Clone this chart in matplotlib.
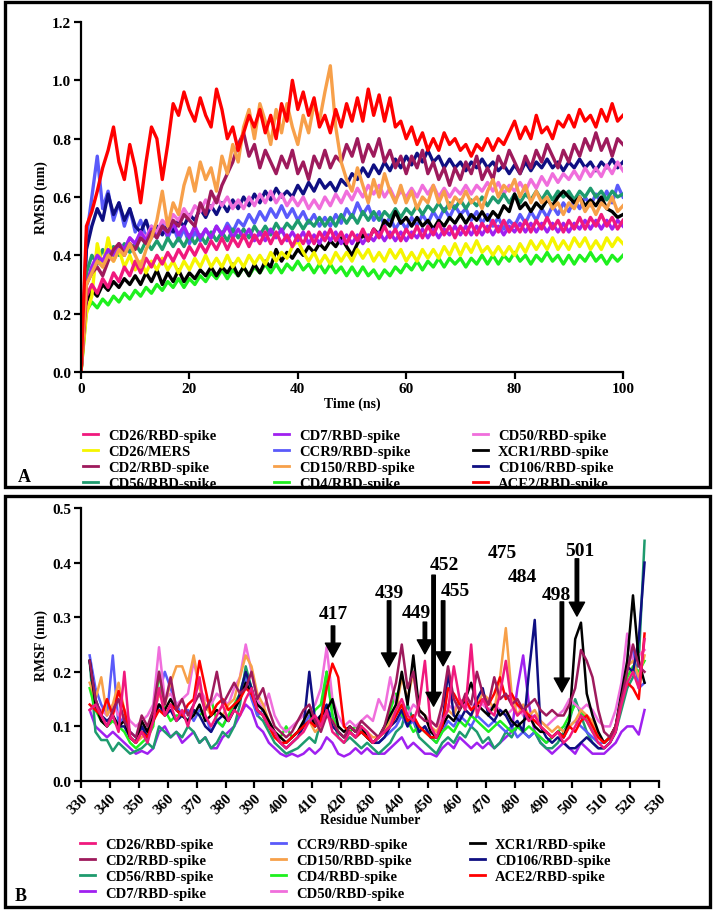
import matplotlib
matplotlib.use('Agg')
import matplotlib.pyplot as plt
import numpy as np
from matplotlib.patches import Rectangle

plt.rcParams['font.family'] = ['Liberation Serif', 'DejaVu Serif']
plt.rcParams['font.weight'] = 'bold'
plt.rcParams['axes.labelweight'] = 'bold'

# ---------------- Panel A : RMSD vs time ----------------
time_ns = np.arange(0, 101)

rmsd_ace2 = [0.00, 0.50, 0.55, 0.62, 0.70, 0.76, 0.84, 0.72, 0.66, 0.78, 0.70,
             0.58, 0.72, 0.84, 0.80, 0.66, 0.78, 0.92, 0.88, 0.96, 0.90,
             0.86, 0.94, 0.88, 0.84, 0.97, 0.90, 0.80, 0.84, 0.76, 0.82,
             0.88, 0.84, 0.90, 0.82, 0.88, 0.80, 0.92, 0.86, 1.00, 0.90,
             0.96, 0.88, 0.94, 0.84, 0.88, 0.82, 0.90, 0.84, 0.92, 0.86,
             0.94, 0.86, 0.97, 0.88, 0.95, 0.86, 0.94, 0.84, 0.86, 0.80,
             0.84, 0.78, 0.82, 0.76, 0.80, 0.76, 0.82, 0.78, 0.80, 0.76,
             0.78, 0.74, 0.78, 0.76, 0.80, 0.76, 0.80, 0.78, 0.82, 0.86,
             0.80, 0.84, 0.80, 0.88, 0.82, 0.84, 0.80, 0.86, 0.84, 0.88,
             0.84, 0.90, 0.86, 0.88, 0.84, 0.90, 0.86, 0.92, 0.86, 0.88]
rmsd_cd150 = [0.00, 0.30, 0.34, 0.38, 0.36, 0.40, 0.38, 0.42, 0.40, 0.44, 0.40,
              0.36, 0.42, 0.46, 0.52, 0.62, 0.50, 0.58, 0.54, 0.64, 0.70,
              0.62, 0.72, 0.66, 0.70, 0.62, 0.74, 0.68, 0.78, 0.72, 0.84,
              0.90, 0.80, 0.92, 0.86, 0.78, 0.90, 0.82, 0.92, 0.84, 0.78,
              0.88, 0.82, 0.92, 0.86, 0.96, 1.05, 0.84, 0.72, 0.66, 0.62,
              0.70, 0.64, 0.58, 0.66, 0.60, 0.68, 0.62, 0.58, 0.64, 0.58,
              0.62, 0.56, 0.60, 0.58, 0.64, 0.58, 0.62, 0.56, 0.60, 0.58,
              0.62, 0.58, 0.60, 0.56, 0.62, 0.66, 0.60, 0.64, 0.62, 0.66,
              0.60, 0.64, 0.58, 0.62, 0.58, 0.60, 0.56, 0.58, 0.54, 0.58,
              0.56, 0.60, 0.55, 0.58, 0.54, 0.58, 0.56, 0.60, 0.55, 0.57]
rmsd_cd2 = [0.00, 0.30, 0.34, 0.36, 0.33, 0.38, 0.42, 0.44, 0.40, 0.44, 0.42,
            0.46, 0.44, 0.48, 0.46, 0.50, 0.48, 0.52, 0.50, 0.54, 0.52,
            0.50, 0.58, 0.54, 0.62, 0.58, 0.64, 0.68, 0.72, 0.78, 0.82,
            0.74, 0.78, 0.70, 0.76, 0.72, 0.68, 0.74, 0.70, 0.76, 0.68,
            0.72, 0.66, 0.74, 0.70, 0.76, 0.70, 0.74, 0.72, 0.78, 0.74,
            0.80, 0.72, 0.78, 0.74, 0.80, 0.72, 0.76, 0.70, 0.74, 0.68,
            0.74, 0.70, 0.76, 0.68, 0.72, 0.66, 0.70, 0.64, 0.70, 0.66,
            0.72, 0.68, 0.74, 0.66, 0.70, 0.66, 0.74, 0.70, 0.76, 0.72,
            0.68, 0.74, 0.70, 0.76, 0.72, 0.78, 0.74, 0.70, 0.76, 0.72,
            0.78, 0.74, 0.80, 0.76, 0.82, 0.76, 0.80, 0.74, 0.80, 0.78]
rmsd_cd106 = [0.00, 0.42, 0.50, 0.56, 0.52, 0.61, 0.54, 0.58, 0.52, 0.56, 0.50,
              0.48, 0.52, 0.46, 0.50, 0.47, 0.51, 0.48, 0.52, 0.50, 0.54,
              0.52, 0.56, 0.53, 0.57, 0.54, 0.58, 0.55, 0.59, 0.56, 0.60,
              0.57, 0.61, 0.58, 0.62, 0.59, 0.63, 0.60, 0.62, 0.60, 0.64,
              0.61, 0.65, 0.62, 0.66, 0.63, 0.65, 0.62, 0.66, 0.64, 0.68,
              0.66, 0.70, 0.67, 0.71, 0.68, 0.72, 0.69, 0.73, 0.70, 0.74,
              0.71, 0.75, 0.72, 0.76, 0.72, 0.74, 0.70, 0.73, 0.70, 0.72,
              0.69, 0.72, 0.70, 0.73, 0.70, 0.72, 0.69, 0.71, 0.68, 0.71,
              0.68, 0.72, 0.69, 0.72, 0.70, 0.73, 0.70, 0.72, 0.69, 0.72,
              0.70, 0.73, 0.70, 0.72, 0.69, 0.72, 0.70, 0.73, 0.70, 0.72]
rmsd_ccr9 = [0.00, 0.46, 0.60, 0.74, 0.56, 0.62, 0.52, 0.58, 0.50, 0.56, 0.48,
             0.52, 0.46, 0.50, 0.47, 0.51, 0.46, 0.50, 0.45, 0.49, 0.44,
             0.48, 0.45, 0.49, 0.46, 0.50, 0.47, 0.51, 0.48, 0.52, 0.50,
             0.54, 0.51, 0.55, 0.52, 0.56, 0.53, 0.57, 0.53, 0.56, 0.52,
             0.55, 0.51, 0.54, 0.50, 0.53, 0.50, 0.54, 0.51, 0.56, 0.53,
             0.58, 0.54, 0.57, 0.52, 0.55, 0.50, 0.53, 0.49, 0.52, 0.49,
             0.53, 0.50, 0.54, 0.51, 0.55, 0.52, 0.56, 0.53, 0.57, 0.54,
             0.56, 0.52, 0.55, 0.51, 0.54, 0.50, 0.53, 0.49, 0.52, 0.50,
             0.54, 0.51, 0.55, 0.52, 0.56, 0.53, 0.57, 0.54, 0.58, 0.55,
             0.59, 0.56, 0.60, 0.57, 0.61, 0.58, 0.62, 0.58, 0.64, 0.60]
rmsd_cd50 = [0.00, 0.30, 0.36, 0.40, 0.38, 0.42, 0.40, 0.44, 0.42, 0.46, 0.44,
             0.48, 0.46, 0.50, 0.48, 0.52, 0.50, 0.54, 0.52, 0.56, 0.53,
             0.57, 0.55, 0.59, 0.56, 0.60, 0.57, 0.60, 0.56, 0.59, 0.56,
             0.60, 0.57, 0.61, 0.58, 0.62, 0.58, 0.61, 0.57, 0.60, 0.57,
             0.60, 0.56, 0.59, 0.56, 0.60, 0.57, 0.61, 0.58, 0.62, 0.59,
             0.63, 0.60, 0.64, 0.61, 0.64, 0.60, 0.63, 0.59, 0.62, 0.60,
             0.63, 0.60, 0.64, 0.61, 0.64, 0.60, 0.63, 0.60, 0.63, 0.61,
             0.64, 0.61, 0.64, 0.62, 0.65, 0.62, 0.65, 0.61, 0.64, 0.62,
             0.65, 0.62, 0.66, 0.63, 0.67, 0.64, 0.68, 0.65, 0.68, 0.66,
             0.69, 0.66, 0.70, 0.67, 0.70, 0.67, 0.71, 0.68, 0.72, 0.69]
rmsd_cd56 = [0.00, 0.34, 0.40, 0.37, 0.42, 0.39, 0.43, 0.40, 0.44, 0.41, 0.44,
             0.41, 0.45, 0.42, 0.45, 0.42, 0.46, 0.43, 0.46, 0.43, 0.47,
             0.44, 0.47, 0.44, 0.48, 0.45, 0.48, 0.45, 0.49, 0.46, 0.49,
             0.46, 0.50, 0.47, 0.50, 0.47, 0.51, 0.48, 0.51, 0.49, 0.52,
             0.49, 0.52, 0.50, 0.53, 0.50, 0.53, 0.50, 0.54, 0.51, 0.54,
             0.51, 0.55, 0.52, 0.55, 0.52, 0.55, 0.53, 0.56, 0.53, 0.56,
             0.54, 0.57, 0.54, 0.57, 0.55, 0.58, 0.55, 0.58, 0.56, 0.59,
             0.56, 0.59, 0.57, 0.60, 0.57, 0.60, 0.58, 0.61, 0.58, 0.61,
             0.58, 0.61, 0.59, 0.62, 0.59, 0.62, 0.59, 0.62, 0.60, 0.62,
             0.59, 0.62, 0.60, 0.63, 0.60, 0.62, 0.59, 0.62, 0.60, 0.61]
rmsd_cd7 = [0.00, 0.30, 0.36, 0.40, 0.38, 0.42, 0.40, 0.44, 0.42, 0.46, 0.44,
            0.48, 0.45, 0.49, 0.46, 0.50, 0.47, 0.51, 0.47, 0.50, 0.46,
            0.50, 0.46, 0.49, 0.46, 0.50, 0.47, 0.50, 0.46, 0.49, 0.46,
            0.49, 0.45, 0.48, 0.45, 0.49, 0.46, 0.49, 0.45, 0.48, 0.45,
            0.48, 0.44, 0.47, 0.44, 0.48, 0.45, 0.48, 0.44, 0.47, 0.44,
            0.47, 0.44, 0.47, 0.45, 0.48, 0.45, 0.48, 0.45, 0.48, 0.45,
            0.48, 0.46, 0.49, 0.46, 0.49, 0.46, 0.49, 0.47, 0.50, 0.47,
            0.50, 0.47, 0.50, 0.47, 0.50, 0.47, 0.50, 0.47, 0.50, 0.48,
            0.51, 0.48, 0.51, 0.48, 0.51, 0.48, 0.51, 0.48, 0.51, 0.48,
            0.51, 0.49, 0.52, 0.49, 0.52, 0.49, 0.52, 0.49, 0.52, 0.50]
rmsd_cd26 = [0.00, 0.26, 0.30, 0.27, 0.32, 0.29, 0.34, 0.31, 0.36, 0.33, 0.38,
             0.34, 0.39, 0.36, 0.40, 0.37, 0.41, 0.38, 0.42, 0.39, 0.43,
             0.40, 0.44, 0.41, 0.45, 0.42, 0.46, 0.42, 0.46, 0.43, 0.47,
             0.43, 0.47, 0.44, 0.48, 0.44, 0.48, 0.44, 0.47, 0.43, 0.47,
             0.44, 0.48, 0.44, 0.48, 0.45, 0.49, 0.45, 0.48, 0.44, 0.48,
             0.45, 0.49, 0.45, 0.49, 0.46, 0.50, 0.46, 0.49, 0.45, 0.49,
             0.46, 0.50, 0.46, 0.50, 0.47, 0.51, 0.47, 0.50, 0.46, 0.50,
             0.47, 0.51, 0.47, 0.51, 0.48, 0.52, 0.48, 0.52, 0.48, 0.51,
             0.48, 0.52, 0.48, 0.52, 0.49, 0.53, 0.49, 0.52, 0.48, 0.52,
             0.49, 0.53, 0.49, 0.53, 0.50, 0.54, 0.50, 0.53, 0.49, 0.52]
rmsd_mers = [0.00, 0.20, 0.26, 0.44, 0.36, 0.46, 0.38, 0.42, 0.36, 0.40, 0.35,
             0.38, 0.34, 0.38, 0.35, 0.39, 0.35, 0.38, 0.34, 0.38, 0.35,
             0.39, 0.36, 0.40, 0.36, 0.39, 0.36, 0.40, 0.36, 0.39, 0.36,
             0.40, 0.37, 0.40, 0.37, 0.41, 0.38, 0.41, 0.39, 0.43, 0.45,
             0.41, 0.38, 0.41, 0.37, 0.40, 0.37, 0.41, 0.38, 0.41, 0.38,
             0.42, 0.39, 0.42, 0.38, 0.41, 0.38, 0.42, 0.39, 0.42, 0.38,
             0.41, 0.38, 0.42, 0.39, 0.42, 0.39, 0.43, 0.40, 0.44, 0.40,
             0.44, 0.41, 0.45, 0.41, 0.43, 0.40, 0.43, 0.40, 0.43, 0.40,
             0.44, 0.41, 0.45, 0.42, 0.45, 0.42, 0.46, 0.42, 0.45, 0.42,
             0.46, 0.43, 0.46, 0.42, 0.45, 0.42, 0.46, 0.43, 0.46, 0.44]
rmsd_cd4 = [0.00, 0.21, 0.24, 0.22, 0.25, 0.23, 0.26, 0.24, 0.27, 0.25, 0.28,
            0.26, 0.29, 0.27, 0.30, 0.28, 0.31, 0.29, 0.32, 0.29, 0.32,
            0.30, 0.33, 0.31, 0.34, 0.32, 0.35, 0.32, 0.35, 0.33, 0.36,
            0.33, 0.36, 0.34, 0.37, 0.34, 0.37, 0.34, 0.37, 0.35, 0.38,
            0.35, 0.37, 0.34, 0.37, 0.34, 0.37, 0.34, 0.36, 0.33, 0.36,
            0.33, 0.36, 0.33, 0.35, 0.32, 0.35, 0.33, 0.36, 0.34, 0.37,
            0.35, 0.38, 0.35, 0.38, 0.36, 0.39, 0.36, 0.39, 0.37, 0.39,
            0.36, 0.39, 0.37, 0.40, 0.37, 0.40, 0.37, 0.40, 0.38, 0.41,
            0.38, 0.40, 0.37, 0.40, 0.38, 0.41, 0.38, 0.40, 0.37, 0.40,
            0.37, 0.40, 0.38, 0.41, 0.38, 0.40, 0.37, 0.40, 0.38, 0.40]
rmsd_xcr1 = [0.00, 0.24, 0.28, 0.26, 0.30, 0.28, 0.31, 0.29, 0.32, 0.30, 0.33,
             0.30, 0.34, 0.31, 0.35, 0.30, 0.34, 0.31, 0.35, 0.31, 0.34,
             0.32, 0.35, 0.33, 0.36, 0.33, 0.36, 0.34, 0.37, 0.33, 0.36,
             0.33, 0.37, 0.34, 0.38, 0.36, 0.42, 0.38, 0.41, 0.39, 0.42,
             0.40, 0.43, 0.41, 0.44, 0.42, 0.45, 0.43, 0.46, 0.43, 0.40,
             0.44, 0.47, 0.45, 0.49, 0.47, 0.52, 0.50, 0.55, 0.51, 0.53,
             0.50, 0.53, 0.50, 0.52, 0.49, 0.52, 0.50, 0.53, 0.51, 0.54,
             0.51, 0.54, 0.52, 0.55, 0.52, 0.55, 0.53, 0.57, 0.55, 0.61,
             0.56, 0.58, 0.55, 0.58, 0.56, 0.59, 0.57, 0.60, 0.62, 0.60,
             0.58, 0.60, 0.57, 0.59, 0.57, 0.60, 0.56, 0.55, 0.53, 0.54]

# ---------------- Panel B : RMSF per residue ----------------
residues = np.arange(333, 527, 2)

rmsf_cd26 = [0.13, 0.14, 0.12, 0.10, 0.12, 0.09, 0.20, 0.08, 0.07, 0.09,
             0.07, 0.11, 0.17, 0.12, 0.14, 0.11, 0.13, 0.10, 0.14, 0.19,
             0.12, 0.10, 0.12, 0.14, 0.11, 0.13, 0.12, 0.15, 0.17, 0.13,
             0.12, 0.10, 0.09, 0.07, 0.06, 0.07, 0.08, 0.09, 0.11, 0.12,
             0.10, 0.13, 0.09, 0.08, 0.07, 0.09, 0.08, 0.10, 0.09, 0.07,
             0.08, 0.09, 0.10, 0.13, 0.15, 0.12, 0.11, 0.14, 0.22, 0.10,
             0.08, 0.11, 0.13, 0.21, 0.15, 0.13, 0.25, 0.12, 0.15, 0.13,
             0.12, 0.16, 0.22, 0.14, 0.12, 0.13, 0.11, 0.12, 0.10, 0.09,
             0.08, 0.09, 0.07, 0.08, 0.10, 0.12, 0.11, 0.09, 0.07, 0.06,
             0.07, 0.09, 0.14, 0.18, 0.20, 0.17, 0.26]
rmsf_cd2 = [0.22, 0.15, 0.12, 0.10, 0.13, 0.15, 0.11, 0.09, 0.08, 0.12,
            0.10, 0.13, 0.20, 0.14, 0.19, 0.13, 0.15, 0.12, 0.14, 0.16,
            0.13, 0.15, 0.20, 0.14, 0.16, 0.18, 0.16, 0.17, 0.20, 0.15,
            0.17, 0.13, 0.10, 0.09, 0.08, 0.09, 0.11, 0.13, 0.14, 0.11,
            0.09, 0.12, 0.11, 0.09, 0.08, 0.10, 0.09, 0.11, 0.10, 0.09,
            0.08, 0.10, 0.14, 0.18, 0.25, 0.17, 0.20, 0.12, 0.11, 0.11,
            0.10, 0.14, 0.21, 0.15, 0.13, 0.16, 0.14, 0.20, 0.16, 0.14,
            0.19, 0.15, 0.16, 0.14, 0.15, 0.13, 0.14, 0.15, 0.13, 0.12,
            0.13, 0.12, 0.12, 0.14, 0.17, 0.24, 0.22, 0.19, 0.13, 0.09,
            0.08, 0.10, 0.15, 0.20, 0.25, 0.21, 0.20]
rmsf_cd56 = [0.22, 0.09, 0.075, 0.075, 0.055, 0.07, 0.06, 0.05, 0.055, 0.06,
             0.07, 0.06, 0.10, 0.09, 0.08, 0.09, 0.08, 0.10, 0.09, 0.07,
             0.08, 0.06, 0.07, 0.09, 0.08, 0.10, 0.14, 0.21, 0.17, 0.12,
             0.11, 0.09, 0.07, 0.06, 0.05, 0.055, 0.06, 0.07, 0.08, 0.07,
             0.11, 0.20, 0.12, 0.08, 0.07, 0.08, 0.07, 0.06, 0.07, 0.06,
             0.05, 0.06, 0.07, 0.09, 0.10, 0.14, 0.11, 0.08, 0.07, 0.06,
             0.05, 0.07, 0.08, 0.07, 0.09, 0.08, 0.10, 0.09, 0.07, 0.08,
             0.06, 0.07, 0.09, 0.08, 0.10, 0.09, 0.08, 0.09, 0.07, 0.06,
             0.06, 0.07, 0.09, 0.11, 0.15, 0.12, 0.09, 0.07, 0.06, 0.06,
             0.07, 0.09, 0.13, 0.17, 0.19, 0.22, 0.44]
rmsf_cd7 = [0.13, 0.10, 0.09, 0.08, 0.09, 0.08, 0.07, 0.06, 0.05, 0.055,
            0.05, 0.06, 0.09, 0.10, 0.08, 0.09, 0.07, 0.08, 0.09, 0.07,
            0.08, 0.06, 0.06, 0.08, 0.09, 0.10, 0.12, 0.14, 0.13, 0.10,
            0.09, 0.07, 0.06, 0.05, 0.045, 0.05, 0.045, 0.05, 0.06, 0.05,
            0.06, 0.08, 0.07, 0.05, 0.045, 0.05, 0.06, 0.05, 0.06, 0.05,
            0.05, 0.05, 0.06, 0.07, 0.08, 0.06, 0.07, 0.06, 0.05, 0.05,
            0.045, 0.06, 0.07, 0.06, 0.08, 0.07, 0.06, 0.07, 0.06, 0.07,
            0.06, 0.07, 0.08, 0.09, 0.17, 0.23, 0.14, 0.09, 0.07, 0.06,
            0.05, 0.06, 0.07, 0.06, 0.05, 0.07, 0.06, 0.05, 0.05, 0.05,
            0.06, 0.07, 0.09, 0.10, 0.10, 0.085, 0.13]
rmsf_ccr9 = [0.23, 0.17, 0.14, 0.12, 0.23, 0.10, 0.12, 0.09, 0.08, 0.10,
             0.09, 0.12, 0.16, 0.20, 0.17, 0.14, 0.12, 0.13, 0.11, 0.13,
             0.12, 0.09, 0.11, 0.10, 0.12, 0.13, 0.15, 0.19, 0.15, 0.12,
             0.13, 0.11, 0.09, 0.08, 0.07, 0.08, 0.09, 0.10, 0.12, 0.10,
             0.11, 0.13, 0.12, 0.09, 0.08, 0.09, 0.08, 0.10, 0.08, 0.07,
             0.07, 0.08, 0.09, 0.10, 0.12, 0.10, 0.11, 0.09, 0.10, 0.08,
             0.07, 0.09, 0.11, 0.10, 0.12, 0.11, 0.10, 0.12, 0.11, 0.10,
             0.11, 0.10, 0.09, 0.10, 0.08, 0.09, 0.08, 0.09, 0.08, 0.07,
             0.08, 0.09, 0.08, 0.10, 0.11, 0.10, 0.09, 0.08, 0.07, 0.07,
             0.08, 0.10, 0.16, 0.21, 0.24, 0.17, 0.18]
rmsf_cd150 = [0.18, 0.15, 0.19, 0.12, 0.14, 0.18, 0.13, 0.08, 0.07, 0.08,
              0.09, 0.12, 0.16, 0.14, 0.18, 0.21, 0.21, 0.18, 0.23, 0.17,
              0.14, 0.12, 0.13, 0.12, 0.14, 0.15, 0.19, 0.23, 0.21, 0.16,
              0.14, 0.11, 0.09, 0.08, 0.07, 0.08, 0.09, 0.10, 0.11, 0.09,
              0.10, 0.12, 0.11, 0.09, 0.08, 0.10, 0.09, 0.10, 0.09, 0.08,
              0.08, 0.09, 0.11, 0.13, 0.19, 0.15, 0.20, 0.13, 0.12, 0.10,
              0.09, 0.11, 0.13, 0.12, 0.15, 0.13, 0.12, 0.14, 0.16, 0.15,
              0.13, 0.19, 0.28, 0.16, 0.12, 0.14, 0.12, 0.13, 0.11, 0.10,
              0.09, 0.10, 0.09, 0.10, 0.11, 0.13, 0.12, 0.11, 0.08, 0.07,
              0.08, 0.10, 0.15, 0.21, 0.22, 0.19, 0.23]
rmsf_cd4 = [0.17, 0.13, 0.11, 0.10, 0.11, 0.10, 0.09, 0.07, 0.06, 0.07,
            0.08, 0.10, 0.20, 0.13, 0.11, 0.12, 0.12, 0.11, 0.13, 0.12,
            0.13, 0.15, 0.11, 0.10, 0.12, 0.14, 0.16, 0.20, 0.17, 0.13,
            0.12, 0.10, 0.09, 0.08, 0.10, 0.08, 0.09, 0.10, 0.11, 0.13,
            0.14, 0.20, 0.12, 0.09, 0.08, 0.09, 0.10, 0.09, 0.08, 0.07,
            0.08, 0.09, 0.13, 0.16, 0.12, 0.11, 0.09, 0.10, 0.09, 0.08,
            0.07, 0.09, 0.10, 0.09, 0.11, 0.10, 0.12, 0.11, 0.10, 0.09,
            0.10, 0.11, 0.10, 0.09, 0.10, 0.09, 0.10, 0.09, 0.08, 0.07,
            0.08, 0.09, 0.10, 0.12, 0.14, 0.13, 0.11, 0.09, 0.08, 0.07,
            0.08, 0.10, 0.14, 0.19, 0.21, 0.20, 0.22]
rmsf_cd50 = [0.13, 0.14, 0.13, 0.12, 0.14, 0.12, 0.13, 0.11, 0.10, 0.11,
             0.12, 0.14, 0.245, 0.15, 0.16, 0.14, 0.15, 0.16, 0.22, 0.17,
             0.15, 0.14, 0.16, 0.15, 0.14, 0.17, 0.19, 0.25, 0.20, 0.15,
             0.13, 0.16, 0.12, 0.10, 0.09, 0.10, 0.11, 0.12, 0.13, 0.14,
             0.17, 0.245, 0.15, 0.12, 0.10, 0.11, 0.10, 0.11, 0.12, 0.11,
             0.15, 0.13, 0.19, 0.14, 0.13, 0.12, 0.14, 0.13, 0.12, 0.11,
             0.10, 0.12, 0.14, 0.13, 0.15, 0.14, 0.13, 0.15, 0.14, 0.13,
             0.14, 0.13, 0.12, 0.13, 0.14, 0.12, 0.11, 0.12, 0.11, 0.10,
             0.11, 0.12, 0.13, 0.15, 0.14, 0.13, 0.14, 0.13, 0.11, 0.10,
             0.10, 0.13, 0.18, 0.27, 0.22, 0.23, 0.24]
rmsf_xcr1 = [0.22, 0.14, 0.11, 0.10, 0.12, 0.10, 0.11, 0.08, 0.07, 0.11,
             0.09, 0.12, 0.14, 0.13, 0.15, 0.13, 0.12, 0.11, 0.12, 0.14,
             0.11, 0.12, 0.13, 0.12, 0.11, 0.13, 0.15, 0.18, 0.16, 0.14,
             0.13, 0.11, 0.09, 0.08, 0.07, 0.08, 0.09, 0.11, 0.13, 0.10,
             0.12, 0.13, 0.15, 0.10, 0.09, 0.10, 0.09, 0.10, 0.08, 0.07,
             0.08, 0.10, 0.12, 0.14, 0.20, 0.14, 0.23, 0.13, 0.12, 0.09,
             0.08, 0.10, 0.12, 0.11, 0.13, 0.15, 0.18, 0.14, 0.13, 0.12,
             0.14, 0.12, 0.13, 0.11, 0.10, 0.11, 0.12, 0.10, 0.09, 0.09,
             0.08, 0.09, 0.08, 0.11, 0.26, 0.29, 0.16, 0.12, 0.09, 0.07,
             0.08, 0.10, 0.16, 0.22, 0.34, 0.22, 0.18]
rmsf_cd106 = [0.22, 0.15, 0.12, 0.11, 0.12, 0.10, 0.10, 0.08, 0.07, 0.10,
              0.08, 0.11, 0.14, 0.12, 0.13, 0.11, 0.12, 0.11, 0.13, 0.12,
              0.10, 0.09, 0.11, 0.12, 0.11, 0.13, 0.16, 0.20, 0.17, 0.13,
              0.12, 0.10, 0.09, 0.07, 0.06, 0.07, 0.08, 0.10, 0.20, 0.11,
              0.12, 0.14, 0.10, 0.09, 0.08, 0.09, 0.08, 0.09, 0.08, 0.07,
              0.07, 0.08, 0.10, 0.11, 0.13, 0.10, 0.12, 0.09, 0.10, 0.08,
              0.08, 0.10, 0.20, 0.12, 0.11, 0.13, 0.12, 0.15, 0.17, 0.12,
              0.11, 0.13, 0.12, 0.10, 0.11, 0.09, 0.20, 0.295, 0.10, 0.08,
              0.07, 0.08, 0.07, 0.06, 0.06, 0.07, 0.08, 0.07, 0.06, 0.06,
              0.07, 0.09, 0.15, 0.21, 0.20, 0.26, 0.40]
rmsf_ace2 = [0.14, 0.13, 0.12, 0.15, 0.12, 0.165, 0.13, 0.08, 0.07, 0.09,
             0.08, 0.11, 0.13, 0.12, 0.14, 0.13, 0.12, 0.14, 0.15, 0.22,
             0.17, 0.12, 0.14, 0.15, 0.13, 0.14, 0.15, 0.17, 0.16, 0.13,
             0.12, 0.10, 0.08, 0.07, 0.07, 0.08, 0.09, 0.10, 0.11, 0.10,
             0.11, 0.17, 0.215, 0.19, 0.10, 0.09, 0.08, 0.09, 0.08, 0.07,
             0.08, 0.09, 0.10, 0.12, 0.14, 0.11, 0.12, 0.10, 0.09, 0.08,
             0.08, 0.10, 0.17, 0.16, 0.14, 0.15, 0.13, 0.14, 0.15, 0.14,
             0.16, 0.19, 0.15, 0.16, 0.14, 0.13, 0.12, 0.11, 0.10, 0.09,
             0.08, 0.09, 0.08, 0.10, 0.09, 0.11, 0.12, 0.10, 0.08, 0.07,
             0.08, 0.10, 0.15, 0.18, 0.17, 0.15, 0.27]

# residue annotations: label, text x, text y, arrow x, arrow start, arrow end
ann_labels = ['417', '439', '449', '452', '455', '475', '484', '498', '501']
ann_text_x = [417.2, 436.6, 445.9, 455.6, 459.4, 475.7, 482.6, 494.4, 502.7]
ann_text_y = [0.306, 0.346, 0.308, 0.396, 0.348, 0.418, 0.374, 0.342, 0.423]
ann_arrow_x = [417.2, 436.6, 449.0, 452.0, 455.3, None, None, 496.4, 501.6]
ann_arrow_top = [0.284, 0.330, 0.291, 0.377, 0.330, None, None, 0.328, 0.407]
ann_arrow_bot = [0.227, 0.209, 0.233, 0.137, 0.211, None, None, 0.163, 0.302]

colors = {
    'CD26/RBD-spike': '#F0197D',
    'CD26/MERS': '#F5F500',
    'CD2/RBD-spike': '#9E1A5C',
    'CD56/RBD-spike': '#1E9B6E',
    'CD7/RBD-spike': '#A020F0',
    'CCR9/RBD-spike': '#5A5AFA',
    'CD150/RBD-spike': '#F7A04A',
    'CD4/RBD-spike': '#1EF01E',
    'CD50/RBD-spike': '#F06EDC',
    'XCR1/RBD-spike': '#000000',
    'CD106/RBD-spike': '#0F0F82',
    'ACE2/RBD-spike': '#FF0000',
}

W, H = 715.0, 912.0
fig = plt.figure(figsize=(7.15, 9.12), dpi=100)


def style_axes(ax):
    for s in ['top', 'right']:
        ax.spines[s].set_visible(False)
    for s in ['left', 'bottom']:
        ax.spines[s].set_linewidth(1.6)
    ax.tick_params(direction='out', length=5, width=1.6, labelsize=11, pad=2)


# ---- panel A
axA = fig.add_axes([81 / W, 1 - 373 / H, 542 / W, 350 / H])
# plotting order = stacking order seen in the figure
rmsd_draw = [('CCR9/RBD-spike', rmsd_ccr9), ('CD106/RBD-spike', rmsd_cd106),
             ('CD50/RBD-spike', rmsd_cd50), ('CD56/RBD-spike', rmsd_cd56),
             ('CD4/RBD-spike', rmsd_cd4), ('XCR1/RBD-spike', rmsd_xcr1),
             ('CD26/MERS', rmsd_mers), ('CD7/RBD-spike', rmsd_cd7),
             ('CD26/RBD-spike', rmsd_cd26), ('CD2/RBD-spike', rmsd_cd2),
             ('CD150/RBD-spike', rmsd_cd150), ('ACE2/RBD-spike', rmsd_ace2)]
hA = {}
for name, vals in rmsd_draw:
    hA[name], = axA.plot(time_ns, vals, color=colors[name], lw=2.4)
axA.set_xlim(0, 100)
axA.set_ylim(0, 1.2)
axA.set_xticks([0, 20, 40, 60, 80, 100])
axA.set_yticks(np.arange(0, 1.21, 0.2))
axA.yaxis.set_major_formatter(plt.FormatStrFormatter('%.1f'))
style_axes(axA)
axA.set_xlabel('Time (ns)', fontsize=10)
axA.set_ylabel('RMSD (nm)', fontsize=10)
axA.xaxis.set_label_coords(0.5, -0.071)
axA.yaxis.set_label_coords(-0.061, 0.5)

orderA = ['CD26/RBD-spike', 'CD26/MERS', 'CD2/RBD-spike', 'CD56/RBD-spike',
          'CD7/RBD-spike', 'CCR9/RBD-spike', 'CD150/RBD-spike', 'CD4/RBD-spike',
          'CD50/RBD-spike', 'XCR1/RBD-spike', 'CD106/RBD-spike', 'ACE2/RBD-spike']
legA = fig.legend([hA[n] for n in orderA], orderA, ncol=3, loc='upper left',
                  bbox_to_anchor=(83 / W, 1 - 430 / H), frameon=False, fontsize=10.5,
                  handlelength=1.0, handletextpad=0.7, columnspacing=4.0,
                  labelspacing=0.18, borderpad=0, borderaxespad=0)
for ln in legA.get_lines():
    ln.set_linewidth(2.0)

# ---- panel B
axB = fig.add_axes([81 / W, 1 - 782 / H, 578 / W, 273 / H])
rmsf_draw = [('CD7/RBD-spike', rmsf_cd7), ('CD56/RBD-spike', rmsf_cd56),
             ('CCR9/RBD-spike', rmsf_ccr9), ('CD4/RBD-spike', rmsf_cd4),
             ('CD50/RBD-spike', rmsf_cd50), ('CD150/RBD-spike', rmsf_cd150),
             ('CD106/RBD-spike', rmsf_cd106), ('XCR1/RBD-spike', rmsf_xcr1),
             ('ACE2/RBD-spike', rmsf_ace2), ('CD2/RBD-spike', rmsf_cd2),
             ('CD26/RBD-spike', rmsf_cd26)]
hB = {}
for name, vals in rmsf_draw:
    hB[name], = axB.plot(residues, vals, color=colors[name], lw=1.8)
axB.set_xlim(330, 530)
axB.set_ylim(0, 0.5)
axB.set_xticks(np.arange(330, 531, 10))
axB.set_yticks(np.arange(0, 0.51, 0.1))
axB.yaxis.set_major_formatter(plt.FormatStrFormatter('%.1f'))
style_axes(axB)
plt.setp(axB.get_xticklabels(), rotation=45, ha='right', rotation_mode='anchor')
axB.set_xlabel('Residue Number', fontsize=10)
axB.set_ylabel('RMSF (nm)', fontsize=10)
axB.xaxis.set_label_coords(0.5, -0.117)
axB.yaxis.set_label_coords(-0.057, 0.5)

for i, lab in enumerate(ann_labels):
    axB.text(ann_text_x[i], ann_text_y[i], lab, fontsize=14, ha='center', va='center')
    if ann_arrow_x[i] is not None:
        axB.annotate('', xy=(ann_arrow_x[i], ann_arrow_bot[i]),
                     xytext=(ann_arrow_x[i], ann_arrow_top[i]),
                     arrowprops=dict(facecolor='black', edgecolor='black', width=2.5,
                                     headwidth=11, headlength=10, shrink=0))

orderB = ['CD26/RBD-spike', 'CD2/RBD-spike', 'CD56/RBD-spike', 'CD7/RBD-spike',
          'CCR9/RBD-spike', 'CD150/RBD-spike', 'CD4/RBD-spike', 'CD50/RBD-spike',
          'XCR1/RBD-spike', 'CD106/RBD-spike', 'ACE2/RBD-spike']
legB = fig.legend([hB[n] for n in orderB], orderB, ncol=3, loc='upper left',
                  bbox_to_anchor=(80 / W, 1 - 839 / H), frameon=False, fontsize=10.5,
                  handlelength=1.0, handletextpad=0.7, columnspacing=4.0,
                  labelspacing=0.2, borderpad=0, borderaxespad=0)
for ln in legB.get_lines():
    ln.set_linewidth(2.0)

# panel letters and frames
fig.text(24 / W, 1 - 478 / H, 'A', fontsize=13, ha='center', va='center')
fig.text(21 / W, 1 - 897 / H, 'B', fontsize=13, ha='center', va='center')
fig.add_artist(Rectangle((0, 1 - 496 / H), 1, 8 / H, transform=fig.transFigure,
                         facecolor='white', edgecolor='none', zorder=6))
fig.add_artist(Rectangle((5 / W, 1 - 488 / H), 705 / W, 485 / H, transform=fig.transFigure,
                         fill=False, edgecolor='black', lw=2.4, zorder=7))
fig.add_artist(Rectangle((5 / W, 1 - 908 / H), 705 / W, 411 / H, transform=fig.transFigure,
                         fill=False, edgecolor='black', lw=2.4, zorder=7))

fig.savefig('out.png', dpi=100)
